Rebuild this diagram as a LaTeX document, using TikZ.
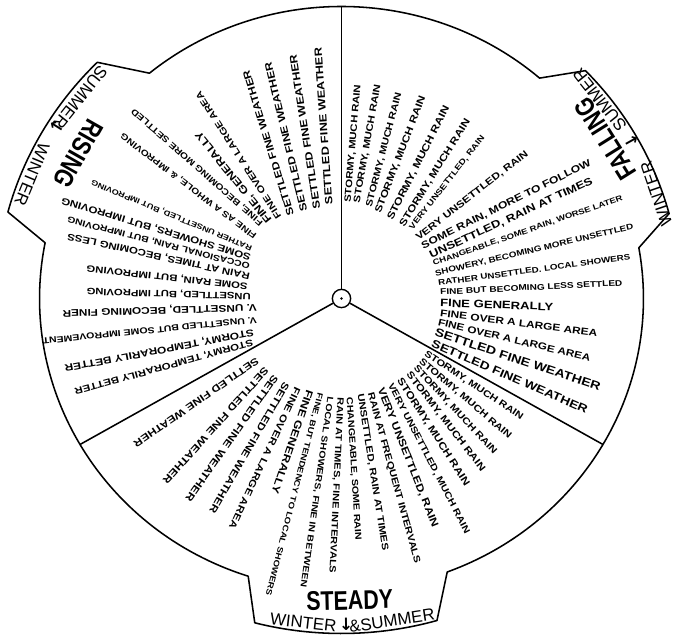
\documentclass[tikz,border=0pt]{standalone}
\usepackage{fontspec}
\usepackage{graphicx}
\setmainfont{Liberation Sans}
\newfontfamily\arrowfont{DejaVu Sans}
\usetikzlibrary{calc}

% one radial forecast line: name, start (x,y), end (x,y) in scan pixels, text
\newcommand\forecast[6]{%
  \pgfmathsetmacro\fcang{atan2(#3-#5,#4-#2)}%
  \pgfmathsetmacro\fclen{0.7113*veclen(#4-#2,#5-#3)}%
  \node[fctext, rotate=\fcang] (#1) at ({#2-341.5},{298.5-#3}) {\resizebox{\fclen pt}{!}{\scalebox{1.22}[1]{#6}}};%
}
\newcommand\tallword[1]{\scalebox{0.95}[1.2]{#1}}

\begin{document}
\begin{tikzpicture}[
    x=0.025cm, y=0.025cm,
    rim/.style={line width=1.1pt, line join=round},
    hub/.style={draw, circle, fill=white, line width=1pt, minimum size=13pt, inner sep=0pt},
    fctext/.style={inner sep=0pt, anchor=west, font=\bfseries},
    tabword/.style={inner sep=0pt, font=\fontsize{16}{16}\selectfont\bfseries},
    tabseason/.style={inner sep=0pt, font=\fontsize{12}{13}\selectfont},
    tabarrow/.style={inner sep=0pt, font=\fontsize{12}{13}\selectfont\arrowfont\bfseries}
]
    \fill[white] (-341.5,-336.5) rectangle (338.5,298.5);

    % Disc outline with the three tabs
    \begin{scope}[xscale=1.034]
        \draw[rim] (90:292) arc[start angle=90, end angle=129.5, radius=292]
            -- (135:334) arc[start angle=135, end angle=165, radius=334]
            -- (169:292) arc[start angle=169, end angle=252, radius=292]
            -- (255.5:335) arc[start angle=255.5, end angle=286, radius=335]
            -- (290.5:292) arc[start angle=290.5, end angle=370, radius=292]
            -- (15:328) arc[start angle=15, end angle=44, radius=328]
            -- (49:292) arc[start angle=49, end angle=90, radius=292] -- cycle;
        \coordinate (rimtop) at (90:292);
        \coordinate (rimleft) at (210:292);
        \coordinate (rimright) at (330:292);
    \end{scope}

    % Hub and sector dividers
    \node[hub] (hub) at (0,0) {};
    \fill (hub.center) circle (1.3);
    \draw[rim] (hub) -- (rimtop);
    \draw[rim] (hub) -- (rimleft);
    \draw[rim] (hub) -- (rimright);

    % Tab labels
    \node[tabword, rotate=240.4] (risingword) at (150.4:{1.034*293} and 293) {\tallword{RISING}};
    \node[tabseason, rotate=231.4] (risingsummer) at (141.4:{1.034*323} and 323) {SUMMER};
    \node[tabarrow, rotate=238] (risingarrow) at (148:{1.034*324} and 324) {↓};
    \node[tabseason, rotate=247.5] (risingwinter) at (157.5:{1.034*324} and 324) {WINTER};

    \node[tabword, rotate=122] (fallingword) at (32:{1.034*301} and 301) {\tallword{FALLING}};
    \node[tabseason, rotate=109] (fallingwinter) at (19:{1.034*322} and 322) {WINTER};
    \node[tabarrow, rotate=119.2] (fallingarrow) at (29.2:{1.034*322} and 322) {↓};
    \node[tabseason, rotate=128.5] (fallingsummer) at (38.5:{1.034*319} and 319) {SUMMER};

    \node[tabword, rotate=1.5] (steadyword) at (271.5:{1.034*302} and 302) {\tallword{STEADY}};
    \node[tabseason, rotate=-6.5] (steadywinter) at (263.5:{1.034*326} and 326) {WINTER};
    \node[tabarrow, rotate=0.8] (steadyarrow) at (270.8:{1.034*326} and 326) {↓};
    \node[tabseason, rotate=8.6] (steadysummer) at (278.6:{1.034*326} and 326) {\&SUMMER};

    % Falling sector
    \forecast{fall1}{348}{203}{358}{85}{STORMY, MUCH RAIN}
    \forecast{fall2}{357}{203}{378}{85}{STORMY, MUCH RAIN}
    \forecast{fall3}{369}{207}{399}{93}{STORMY, MUCH RAIN}
    \forecast{fall4}{378}{213}{423}{97}{STORMY, MUCH RAIN}
    \forecast{fall5}{390}{220}{447}{107}{STORMY, MUCH RAIN}
    \forecast{fall6}{402}{226}{468}{120}{STORMY, MUCH RAIN}
    \forecast{fall7}{411}{229}{483}{137}{VERY UNSETTLED, RAIN}
    \forecast{fall8}{417}{239}{527}{153}{VERY UNSETTLED, RAIN}
    \forecast{fall9}{422}{247}{590}{163}{SOME RAIN, MORE TO FOLLOW}
    \forecast{fall10}{430}{256}{592}{181}{UNSETTLED, RAIN AT TIMES}
    \forecast{fall11}{433}{264}{622}{198}{CHANGEABLE, SOME RAIN, WORSE LATER}
    \forecast{fall12}{435}{274}{633}{227}{SHOWERY, BECOMING MORE UNSETTLED}
    \forecast{fall13}{438}{283}{630}{257}{RATHER UNSETTLED. LOCAL SHOWERS}
    \forecast{fall14}{440}{292}{622}{283}{FINE BUT BECOMING LESS SETTLED}
    \forecast{fall15}{440}{303}{553}{307}{FINE GENERALLY}
    \forecast{fall16}{440}{313}{597}{333}{FINE OVER A LARGE AREA}
    \forecast{fall17}{438}{322}{590}{358}{FINE OVER A LARGE AREA}
    \forecast{fall18}{435}{332}{600}{387}{SETTLED FINE WEATHER}
    \forecast{fall19}{432}{343}{587}{410}{SETTLED FINE WEATHER}

    % Steady sector
    \forecast{steady1}{425}{353}{522}{418}{STORMY, MUCH RAIN}
    \forecast{steady2}{420}{360}{510}{437}{STORMY, MUCH RAIN}
    \forecast{steady3}{415}{367}{495}{453}{STORMY, MUCH RAIN}
    \forecast{steady4}{408}{373}{483}{470}{STORMY, MUCH RAIN}
    \forecast{steady5}{399}{379}{467}{485}{STORMY, MUCH RAIN}
    \forecast{steady6}{390}{384}{467}{533}{VERY UNSETTLED, MUCH RAIN}
    \forecast{steady7}{380}{388}{435}{527}{VERY UNSETTLED, RAIN}
    \forecast{steady8}{370}{393}{417}{563}{RAIN AT FREQUENT INTERVALS}
    \forecast{steady9}{360}{394}{385}{550}{UNSETTLED, RAIN AT TIMES}
    \forecast{steady10}{349}{397}{358}{540}{CHANGEABLE, SOME RAIN}
    \forecast{steady11}{340}{397}{332}{573}{RAIN AT TIMES, FINE INTERVALS}
    \forecast{steady12}{330}{397}{303}{587}{LOCAL SHOWERS, FINE IN BETWEEN}
    \forecast{steady13}{320}{393}{268}{595}{FINE, BUT TENDENCY TO LOCAL SHOWERS}
    \forecast{steady14}{310}{390}{275}{493}{FINE GENERALLY}
    \forecast{steady15}{298}{388}{232}{528}{FINE OVER A LARGE AREA}
    \forecast{steady16}{287}{383}{212}{512}{SETTLED FINE WEATHER}
    \forecast{steady17}{276}{376}{188}{500}{SETTLED FINE WEATHER}
    \forecast{steady18}{267}{369}{165}{482}{SETTLED FINE WEATHER}
    \forecast{steady19}{258}{360}{135}{445}{SETTLED FINE WEATHER}

    % Rising sector
    \forecast{rise1}{329}{205}{318}{48}{SETTLED FINE WEATHER}
    \forecast{rise2}{317}{209}{293}{55}{SETTLED FINE WEATHER}
    \forecast{rise3}{304}{212}{268}{63}{SETTLED FINE WEATHER}
    \forecast{rise4}{291}{216}{246}{71}{SETTLED FINE WEATHER}
    \forecast{rise5}{279}{218}{198}{93}{FINE OVER A LARGE AREA}
    \forecast{rise6}{270}{222}{198}{133}{FINE, GENERALLY}
    \forecast{rise7}{262}{224}{133}{110}{FINE, BECOMING MORE SETTLED}
    \forecast{rise8}{256}{237}{122}{135}{FINE AS A WHOLE, \& IMPROVING}
    \forecast{rise9}{252}{248}{92}{182}{RATHER UNSETTLED, BUT IMPROVING}
    \forecast{rise10}{251}{257}{62}{200}{SOME SHOWERS, BUT IMPROVING}
    \forecast{rise11}{250}{266}{68}{219}{OCCASIONAL RAIN, BUT IMPROVING}
    \forecast{rise12}{250}{276}{68}{236}{RAIN AT TIMES, BECOMING LESS}
    \forecast{rise13}{248}{286}{87}{268}{SOME RAIN, BUT IMPROVING}
    \forecast{rise14}{251}{296}{87}{291}{UNSETTLED, BUT IMPROVING}
    \forecast{rise15}{257}{307}{63}{313}{V. UNSETTLED, BECOMING FINER}
    \forecast{rise16}{257}{320}{43}{341}{V. UNSETTLED BUT SOME IMPROVEMENT}
    \forecast{rise17}{254}{332}{65}{368}{STORMY, TEMPORARILY BETTER}
    \forecast{rise18}{253}{342}{75}{391}{STORMY, TEMPORARILY BETTER}
\end{tikzpicture}
\end{document}
